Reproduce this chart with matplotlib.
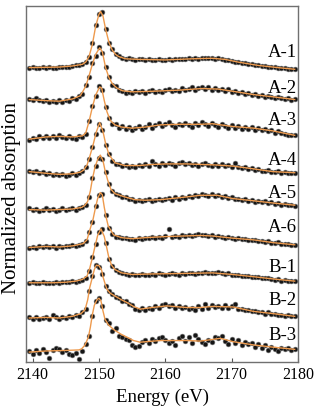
import numpy as np
import matplotlib
matplotlib.use('Agg')
import matplotlib.pyplot as plt

# sample names, top to bottom
samples = ['A-1', 'A-2', 'A-3', 'A-4', 'A-5', 'A-6', 'B-1', 'B-2', 'B-3']

# measured points start at 2139.5 eV, one every 0.5 eV
e_start = 2139.5
e_step = 0.5

# measured (normalized) absorption, each relative to its own pre-edge
a1_pts = [0.00, 0.01, -0.01, 0.00, 0.01, 0.00, 0.01, -0.01, 0.00, 0.01,
          0.02, 0.01, 0.02, 0.03, 0.04, 0.04, 0.07, 0.10, 0.19, 0.44,
          0.77, 0.98, 1.01, 0.71, 0.45, 0.33, 0.25, 0.21, 0.18, 0.16,
          0.17, 0.15, 0.14, 0.16, 0.15, 0.14, 0.15, 0.13, 0.14, 0.15,
          0.14, 0.13, 0.15, 0.14, 0.15, 0.16, 0.15, 0.16, 0.17, 0.16,
          0.17, 0.16, 0.18, 0.17, 0.18, 0.17, 0.16, 0.17, 0.15, 0.14,
          0.14, 0.12, 0.11, 0.10, 0.09, 0.08, 0.07, 0.06, 0.05, 0.04,
          0.03, 0.03, 0.02, 0.01, 0.01, 0.00, -0.01, -0.01, -0.02, -0.02,
          -0.03]
a2_pts = [0.03, 0.01, 0.04, 0.02, -0.01, 0.01, -0.03, 0.00, -0.02, 0.01,
          -0.02, 0.02, 0.00, 0.04, 0.03, 0.08, 0.12, 0.28, 0.43, 0.68,
          0.82, 0.97, 0.87, 0.62, 0.43, 0.29, 0.26, 0.19, 0.17, 0.14,
          0.16, 0.13, 0.17, 0.15, 0.18, 0.14, 0.17, 0.19, 0.16, 0.18,
          0.15, 0.19, 0.21, 0.17, 0.20, 0.18, 0.23, 0.19, 0.21, 0.24,
          0.20, 0.23, 0.25, 0.21, 0.24, 0.19, 0.23, 0.20, 0.22, 0.18,
          0.21, 0.16, 0.18, 0.14, 0.15, 0.12, 0.14, 0.10, 0.12, 0.09,
          0.11, 0.07, 0.09, 0.06, 0.05, 0.07, 0.04, 0.03, 0.04, 0.02,
          0.03]
a3_pts = [-0.03, 0.01, -0.02, 0.03, 0.00, 0.04, 0.01, 0.03, 0.00, 0.05,
          0.02, 0.00, 0.04, 0.01, -0.01, 0.03, 0.02, 0.08, 0.31, 0.58,
          0.76, 0.95, 0.88, 0.57, 0.36, 0.26, 0.25, 0.19, 0.22, 0.16,
          0.20, 0.15, 0.19, 0.22, 0.17, 0.21, 0.25, 0.19, 0.24, 0.27,
          0.22, 0.26, 0.29, 0.23, 0.20, 0.26, 0.23, 0.28, 0.24, 0.21,
          0.27, 0.24, 0.29, 0.25, 0.22, 0.28, 0.24, 0.20, 0.25, 0.22,
          0.18, 0.23, 0.19, 0.22, 0.17, 0.20, 0.16, 0.21, 0.15, 0.18,
          0.14, 0.17, 0.12, 0.15, 0.10, 0.12, 0.09, 0.08, 0.06, 0.05,
          0.06]
a4_pts = [0.06, 0.04, 0.05, 0.02, 0.03, 0.00, 0.01, -0.02, 0.00, -0.03,
          -0.01, -0.04, -0.02, 0.01, -0.02, 0.02, 0.06, 0.12, 0.27, 0.49,
          0.73, 0.91, 0.80, 0.53, 0.36, 0.24, 0.18, 0.17, 0.14, 0.16,
          0.13, 0.15, 0.12, 0.16, 0.14, 0.17, 0.15, 0.23, 0.17, 0.15,
          0.19, 0.16, 0.20, 0.17, 0.15, 0.19, 0.21, 0.17, 0.19, 0.16,
          0.18, 0.15, 0.17, 0.19, 0.16, 0.14, 0.18, 0.15, 0.17, 0.14,
          0.16, 0.13, 0.20, 0.12, 0.10, 0.12, 0.08, 0.10, 0.07, 0.09,
          0.06, 0.05, 0.07, 0.04, 0.03, 0.05, 0.02, 0.03, 0.01, 0.02,
          0.02]
a5_pts = [0.03, 0.00, 0.02, -0.01, 0.01, 0.03, 0.00, 0.02, -0.02, 0.01,
          0.03, 0.00, 0.02, 0.04, 0.01, 0.04, 0.06, 0.10, 0.24, 0.58,
          0.81, 0.95, 0.93, 0.69, 0.47, 0.34, 0.29, 0.27, 0.24, 0.23,
          0.21, 0.20, 0.17, 0.19, 0.16, 0.18, 0.20, 0.17, 0.19, 0.21,
          0.18, 0.20, 0.22, 0.19, 0.23, 0.21, 0.24, 0.22, 0.26, 0.24,
          0.28, 0.26, 0.29, 0.27, 0.25, 0.29, 0.26, 0.28, 0.24, 0.26,
          0.22, 0.24, 0.20, 0.21, 0.18, 0.20, 0.17, 0.18, 0.15, 0.17,
          0.14, 0.16, 0.13, 0.14, 0.12, 0.13, 0.10, 0.11, 0.09, 0.10,
          0.08]
a6_pts = [-0.02, 0.00, -0.01, 0.01, 0.00, 0.02, 0.00, 0.01, -0.01, 0.01,
          0.00, 0.02, 0.01, 0.03, 0.02, 0.04, 0.06, 0.10, 0.27, 0.46,
          0.74, 0.95, 0.96, 0.58, 0.34, 0.24, 0.19, 0.18, 0.16, 0.17,
          0.14, 0.15, 0.13, 0.16, 0.15, 0.17, 0.16, 0.18, 0.17, 0.19,
          0.17, 0.20, 0.32, 0.18, 0.20, 0.19, 0.21, 0.20, 0.22, 0.20,
          0.21, 0.23, 0.21, 0.22, 0.20, 0.21, 0.19, 0.20, 0.18, 0.17,
          0.18, 0.16, 0.15, 0.16, 0.14, 0.15, 0.13, 0.12, 0.13, 0.11,
          0.10, 0.09, 0.10, 0.08, 0.07, 0.09, 0.06, 0.05, 0.06, 0.04,
          0.03]
b1_pts = [0.00, 0.01, -0.01, 0.00, 0.01, 0.00, -0.01, 0.00, 0.01, 0.00,
          0.01, 0.02, 0.01, 0.03, 0.02, 0.04, 0.05, 0.09, 0.22, 0.47,
          0.70, 0.92, 0.97, 0.73, 0.44, 0.30, 0.24, 0.20, 0.17, 0.16,
          0.15, 0.16, 0.14, 0.15, 0.16, 0.15, 0.14, 0.16, 0.15, 0.17,
          0.16, 0.15, 0.16, 0.17, 0.16, 0.15, 0.17, 0.16, 0.18, 0.17,
          0.16, 0.18, 0.17, 0.19, 0.18, 0.17, 0.18, 0.19, 0.17, 0.16,
          0.17, 0.15, 0.14, 0.15, 0.13, 0.12, 0.12, 0.11, 0.10, 0.10,
          0.09, 0.08, 0.08, 0.07, 0.05, 0.06, 0.04, 0.05, 0.03, 0.03,
          0.03]
b2_pts = [0.01, -0.01, 0.02, -0.02, 0.00, 0.02, -0.01, 0.06, 0.01, -0.01,
          0.02, 0.00, 0.03, 0.01, 0.05, 0.04, 0.10, 0.17, 0.49, 0.77,
          0.97, 0.93, 0.80, 0.59, 0.49, 0.44, 0.38, 0.37, 0.31, 0.30,
          0.25, 0.24, 0.17, 0.15, 0.18, 0.14, 0.19, 0.17, 0.21, 0.18,
          0.24, 0.26, 0.21, 0.23, 0.19, 0.22, 0.18, 0.20, 0.16, 0.19,
          0.15, 0.21, 0.17, 0.25, 0.19, 0.24, 0.20, 0.22, 0.19, 0.23,
          0.18, 0.21, 0.25, 0.16, 0.17, 0.14, 0.15, 0.12, 0.13, 0.10,
          0.11, 0.08, 0.10, 0.07, 0.08, 0.05, 0.06, 0.04, 0.05, 0.03,
          0.04]
b3_pts = [0.02, -0.04, 0.04, -0.02, 0.05, 0.01, -0.11, 0.03, 0.07, 0.05,
          0.00, 0.04, -0.03, -0.06, -0.02, -0.12, 0.02, 0.14, 0.30, 0.66,
          0.93, 0.99, 0.83, 0.58, 0.52, 0.38, 0.43, 0.30, 0.27, 0.24,
          0.22, 0.13, 0.10, 0.11, 0.19, 0.22, 0.17, 0.24, 0.20, 0.25,
          0.27, 0.22, 0.16, 0.21, 0.13, 0.25, 0.29, 0.20, 0.27, 0.17,
          0.31, 0.23, 0.18, 0.14, 0.22, 0.19, 0.28, 0.25, 0.30, 0.21,
          0.15, 0.24, 0.17, 0.22, 0.12, 0.18, 0.14, 0.16, 0.10, 0.15,
          0.07, 0.12, 0.04, 0.10, 0.06, 0.02, 0.08, 0.05, 0.07, 0.04,
          0.06]

# fitted curves (energy, value) for each sample
a1_fit_e = [2139.5, 2144, 2146, 2147.5, 2148, 2148.5, 2149, 2149.5, 2150, 2150.25, 2150.6,
            2151, 2151.5, 2152, 2152.5, 2153, 2154, 2156, 2160, 2164, 2167, 2169, 2171,
            2174, 2177, 2179.5]
a1_fit_y = [0.00, 0.01, 0.03, 0.06, 0.10, 0.20, 0.42, 0.75, 0.97, 1.02, 0.94,
            0.70, 0.46, 0.32, 0.24, 0.20, 0.16, 0.15, 0.14, 0.16, 0.17, 0.15, 0.10,
            0.04, 0.00, -0.03]
a2_fit_e = [2139.5, 2142, 2144, 2146, 2147.2, 2148, 2148.5, 2149, 2149.5, 2150.1, 2150.5,
            2151, 2151.5, 2152, 2152.7, 2153.5, 2155, 2158, 2162, 2165.5, 2168, 2170.2,
            2173.3, 2176.2, 2179.5]
a2_fit_y = [0.02, 0.00, -0.01, 0.03, 0.09, 0.26, 0.45, 0.66, 0.84, 0.96, 0.89,
            0.60, 0.42, 0.31, 0.23, 0.18, 0.16, 0.17, 0.19, 0.22, 0.21, 0.17,
            0.11, 0.07, 0.02]
a3_fit_e = [2139.5, 2142, 2144, 2146, 2147.5, 2148, 2148.5, 2149, 2149.5, 2150.1, 2150.4,
            2150.8, 2151.2, 2151.7, 2152.4, 2153.4, 2155, 2157, 2159.3, 2162, 2165.3,
            2167.1, 2170.2, 2173.3, 2176.2, 2179.5]
a3_fit_y = [-0.02, 0.02, 0.03, 0.02, 0.04, 0.09, 0.30, 0.56, 0.78, 0.93, 0.91,
            0.68, 0.48, 0.32, 0.24, 0.20, 0.18, 0.20, 0.24, 0.25, 0.25,
            0.26, 0.21, 0.18, 0.13, 0.05]
a4_fit_e = [2139.5, 2142, 2144, 2146, 2147.2, 2147.7, 2148.2, 2148.6, 2149.1, 2149.6, 2150.1,
            2150.6, 2151, 2151.5, 2152.4, 2153.9, 2156, 2158, 2160.2, 2163.2, 2167.8,
            2170.2, 2173.3, 2176.2, 2179.5]
a4_fit_y = [0.04, 0.01, -0.01, 0.00, 0.03, 0.07, 0.16, 0.31, 0.52, 0.76, 0.93,
            0.77, 0.55, 0.35, 0.20, 0.15, 0.15, 0.17, 0.18, 0.18, 0.16,
            0.14, 0.09, 0.04, 0.02]
a5_fit_e = [2139.5, 2142, 2144, 2146, 2147.4, 2147.9, 2148.3, 2148.7, 2149, 2149.4, 2149.8,
            2150.2, 2150.6, 2150.9, 2151.3, 2151.8, 2152.4, 2153.9, 2155.4, 2157, 2159.3,
            2163.2, 2165.3, 2167.8, 2170.2, 2173.3, 2176.2, 2179.5]
a5_fit_y = [0.01, 0.00, 0.01, 0.02, 0.05, 0.09, 0.16, 0.35, 0.56, 0.78, 0.92,
            1.00, 0.90, 0.73, 0.55, 0.38, 0.30, 0.24, 0.19, 0.18, 0.19,
            0.24, 0.27, 0.27, 0.21, 0.17, 0.13, 0.09]
a6_fit_e = [2139.5, 2142, 2144, 2146, 2147.6, 2148.2, 2148.6, 2149.1, 2149.5, 2149.8, 2150.2,
            2150.5, 2150.8, 2151.1, 2151.4, 2152.2, 2153.4, 2155, 2157, 2160.2, 2165.3,
            2167.1, 2170.2, 2173.3, 2176.2, 2179.5]
a6_fit_y = [-0.01, 0.01, 0.00, 0.02, 0.06, 0.13, 0.30, 0.50, 0.73, 0.88, 0.99,
            0.95, 0.72, 0.53, 0.38, 0.22, 0.17, 0.15, 0.17, 0.19, 0.21,
            0.20, 0.16, 0.13, 0.08, 0.04]
b1_fit_e = [2139.5, 2143, 2145, 2146.5, 2147.5, 2148.2, 2148.6, 2149, 2149.4, 2149.8, 2150.3,
            2150.8, 2151.2, 2151.5, 2151.9, 2152.4, 2153.4, 2155, 2158, 2163.2, 2167.1,
            2170.2, 2173.3, 2176.2, 2179.5]
b1_fit_y = [0.00, 0.00, 0.01, 0.03, 0.06, 0.12, 0.26, 0.45, 0.66, 0.86, 0.98,
            0.84, 0.62, 0.45, 0.32, 0.24, 0.18, 0.15, 0.16, 0.17, 0.18,
            0.15, 0.11, 0.07, 0.03]
b2_fit_e = [2139.5, 2142, 2144, 2146, 2147.3, 2147.9, 2148.3, 2148.6, 2149, 2149.3, 2149.6,
            2150, 2150.4, 2150.6, 2150.9, 2151.2, 2151.7, 2152.4, 2153.4, 2154.4, 2155.2,
            2156.2, 2158, 2160.2, 2163.2, 2165.3, 2167.1, 2170.2, 2173.3, 2176.2, 2179.5]
b2_fit_y = [0.00, 0.01, 0.00, 0.03, 0.08, 0.15, 0.33, 0.55, 0.74, 0.88, 0.96,
            0.95, 0.87, 0.75, 0.63, 0.52, 0.45, 0.40, 0.33, 0.27, 0.21,
            0.16, 0.19, 0.22, 0.19, 0.19, 0.21, 0.20, 0.12, 0.08, 0.03]
b3_fit_e = [2139.5, 2142, 2145, 2147, 2147.4, 2147.9, 2148.4, 2148.7, 2149, 2149.3, 2149.7,
            2150, 2150.3, 2150.6, 2150.9, 2151.4, 2152.2, 2153.4, 2154.4, 2155.2, 2156.2,
            2159.2, 2163.2, 2165.3, 2168.3, 2170.2, 2173.3, 2176.2, 2179.5]
b3_fit_y = [0.00, 0.02, 0.03, 0.04, 0.06, 0.13, 0.27, 0.45, 0.68, 0.85, 0.95,
            0.98, 0.93, 0.75, 0.60, 0.50, 0.41, 0.32, 0.26, 0.21, 0.18,
            0.21, 0.21, 0.20, 0.25, 0.19, 0.13, 0.09, 0.05]

points = [a1_pts, a2_pts, a3_pts, a4_pts, a5_pts, a6_pts, b1_pts, b2_pts, b3_pts]
fits = [(a1_fit_e, a1_fit_y), (a2_fit_e, a2_fit_y), (a3_fit_e, a3_fit_y),
        (a4_fit_e, a4_fit_y), (a5_fit_e, a5_fit_y), (a6_fit_e, a6_fit_y),
        (b1_fit_e, b1_fit_y), (b2_fit_e, b2_fit_y), (b3_fit_e, b3_fit_y)]

# vertical stacking of the curves and where the names go
offsets = [5.35, 4.75, 4.07, 3.42, 2.76, 2.09, 1.44, 0.80, 0.18]
label_y = [5.55, 4.89, 4.30, 3.58, 2.98, 2.36, 1.64, 1.04, 0.40]


def main():
	plt.rcParams['font.family'] = ['Liberation Serif', 'DejaVu Serif']
	fig = plt.figure(figsize=(3.2, 4.16), dpi=100)
	ax = fig.add_axes([26/320, 1 - 362/416, 272/320, 356/416])

	for name, pts, (fe, fy), off, ly in zip(samples, points, fits, offsets, label_y):
		e = e_start + e_step*np.arange(len(pts))
		ax.scatter(e, np.array(pts) + off, s=12, facecolor='#151515',
				   edgecolor='#7a7a7a', linewidths=0.4, zorder=2)
		ax.plot(fe, np.array(fy) + off, color='#EE9A4D', lw=1.0, zorder=3)
		ax.text(2179.8, ly, name, ha='right', va='baseline', fontsize=13.5)

	ax.set_xlim(2139, 2180)
	ax.set_ylim(0, 6.47)
	ax.set_xticks([2140, 2150, 2160, 2170, 2180])
	ax.set_yticks([])
	ax.tick_params(axis='x', direction='in', length=3, width=0.8,
				   color='#555555', labelsize=11.5, pad=3.5)
	for sp in ax.spines.values():
		sp.set_color('#707070')
		sp.set_linewidth(1.0)

	ax.set_xlabel('Energy (eV)', fontsize=13.5, labelpad=4)
	ax.set_ylabel('Normalized absorption', fontsize=15)
	ax.yaxis.set_label_coords(-0.018, 0.46)

	plt.savefig('out.png', dpi=100)


if __name__ == '__main__':
	main()
